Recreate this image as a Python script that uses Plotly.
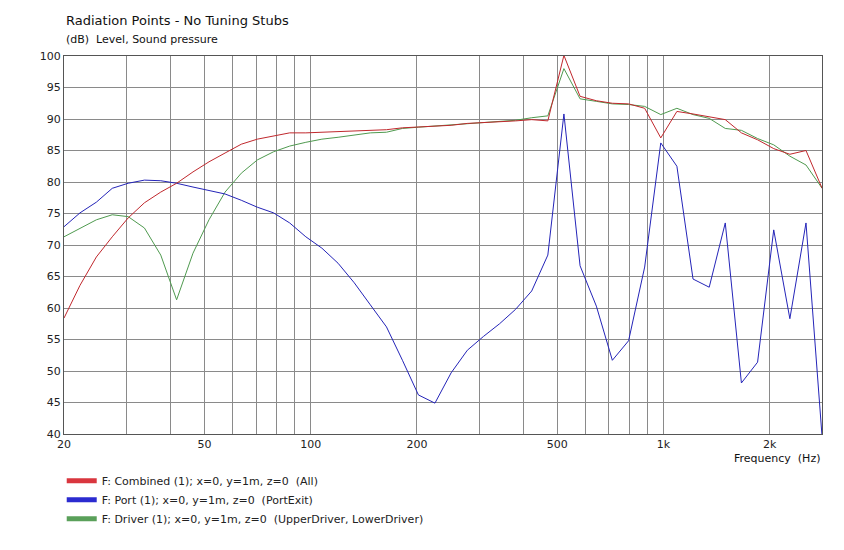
import plotly.graph_objects as go

# frequency grid of the simulation (Hz)
freq = [20, 22.2, 24.7, 27.4, 30.4, 33.8, 37.6, 41.7, 46.4, 51.5, 57.2, 63.6,
        70.6, 78.5, 87.2, 96.9, 107.6, 119.6, 132.9, 147.6, 164, 182, 202, 225,
        250, 278, 309, 343, 381, 423, 470, 522, 580, 645, 716, 796, 884, 982,
        1091, 1212, 1347, 1496, 1662, 1847, 2052, 2280, 2533, 2814]

combined = [58.4, 63.6, 68.1, 71.3, 74.3, 76.7, 78.4, 79.8, 81.6, 83.2, 84.6, 86.0,
            86.8, 87.3, 87.8, 87.8, 87.9, 88.1, 88.1, 88.2, 88.3, 88.6, 88.7, 88.9,
            89.0, 89.3, 89.4, 89.6, 89.7, 89.9, 89.7, 100.1, 93.6, 92.9, 92.5, 92.4,
            91.7, 87.0, 91.2, 90.8, 90.4, 89.9, 87.8, 86.7, 85.3, 84.4, 85.0, 79.0]

port = [72.9, 75.1, 76.8, 79.0, 79.8, 80.3, 80.2, 79.8, 79.2, 78.6, 78.1, 77.1,
        76.0, 75.1, 73.5, 71.3, 69.5, 67.1, 64.0, 60.5, 57.0, 51.7, 46.2, 44.9,
        49.7, 53.3, 55.5, 57.5, 59.8, 62.7, 68.4, 90.8, 66.7, 60.3, 51.7, 54.8,
        66.5, 86.2, 82.5, 64.6, 63.3, 73.5, 48.1, 51.4, 72.4, 58.3, 73.5, 39.5]

driver = [71.3, 72.7, 74.0, 74.8, 74.5, 72.7, 68.4, 61.3, 68.7, 74.0, 78.4, 81.4,
          83.5, 84.8, 85.7, 86.3, 86.8, 87.1, 87.4, 87.8, 87.9, 88.5, 88.7, 88.9,
          89.0, 89.3, 89.5, 89.7, 89.8, 90.2, 90.5, 98.0, 93.2, 92.8, 92.4, 92.3,
          92.0, 90.7, 91.7, 90.7, 90.1, 88.5, 88.2, 86.9, 85.9, 84.1, 82.7, 79.0]

names = ["F: Combined (1); x=0, y=1m, z=0  (All)",
         "F: Port (1); x=0, y=1m, z=0  (PortExit)",
         "F: Driver (1); x=0, y=1m, z=0  (UpperDriver, LowerDriver)"]
colors = ["#c0282d", "#2424b8", "#4f9a4f"]
swatch = ["#d9363e", "#2b2bd0", "#5aa05a"]

tick_vals = [20, 50, 100, 200, 500, 1000, 2000]
tick_text = ["20", "50", "100", "200", "500", "1k", "2k"]
minor_vals = [30, 40, 60, 70, 80, 90, 300, 400, 600, 700, 800, 900]

fig = go.Figure()
# legend-only entries with thick swatches
for name, c in zip(names, swatch):
    fig.add_trace(go.Scatter(x=[None], y=[None], mode="lines", name=name,
                             line=dict(color=c, width=5)))
for ys, c in zip([driver, port, combined], [colors[2], colors[1], colors[0]]):
    fig.add_trace(go.Scatter(x=freq, y=ys, mode="lines", showlegend=False,
                             line=dict(color=c, width=1), hoverinfo="skip"))

grid = "#8a8a8a"
fig.update_layout(
    width=844, height=550,
    margin=dict(l=56, r=30, t=48, b=124),
    paper_bgcolor="white", plot_bgcolor="white",
    font=dict(family="DejaVu Sans", size=11, color="#222"),
    showlegend=True,
    legend=dict(x=-0.003, y=-0.085, xanchor="left", yanchor="top",
                itemwidth=30, tracegroupgap=0, font=dict(size=11)),
    xaxis=dict(type="log", range=[1.301, 3.449], tickvals=tick_vals,
               ticktext=tick_text, showgrid=True, gridcolor=grid, gridwidth=1,
               showline=True, linecolor="#555", mirror=True, ticks="",
               zeroline=False,
               minor=dict(tickvals=minor_vals, showgrid=True, gridcolor=grid,
                          gridwidth=1, ticks="")),
    yaxis=dict(range=[40, 100], dtick=5, showgrid=True, gridcolor=grid,
               gridwidth=1, showline=True, linecolor="#555", mirror=True,
               ticks="", zeroline=False),
    annotations=[
        dict(text="Radiation Points - No Tuning Stubs", xref="paper", yref="paper",
             x=0, y=1, yshift=36, xanchor="left", yanchor="middle",
             showarrow=False, font=dict(size=13, color="#111")),
        dict(text="(dB)  Level, Sound pressure", xref="paper", yref="paper",
             x=0, y=1, yshift=17, xanchor="left", yanchor="middle",
             showarrow=False, font=dict(size=11, color="#111")),
        dict(text="Frequency  (Hz)", xref="paper", yref="paper",
             x=1, y=0, yshift=-24, xanchor="right", yanchor="middle",
             showarrow=False, font=dict(size=11, color="#111")),
    ],
)

fig.write_html("out.html")
